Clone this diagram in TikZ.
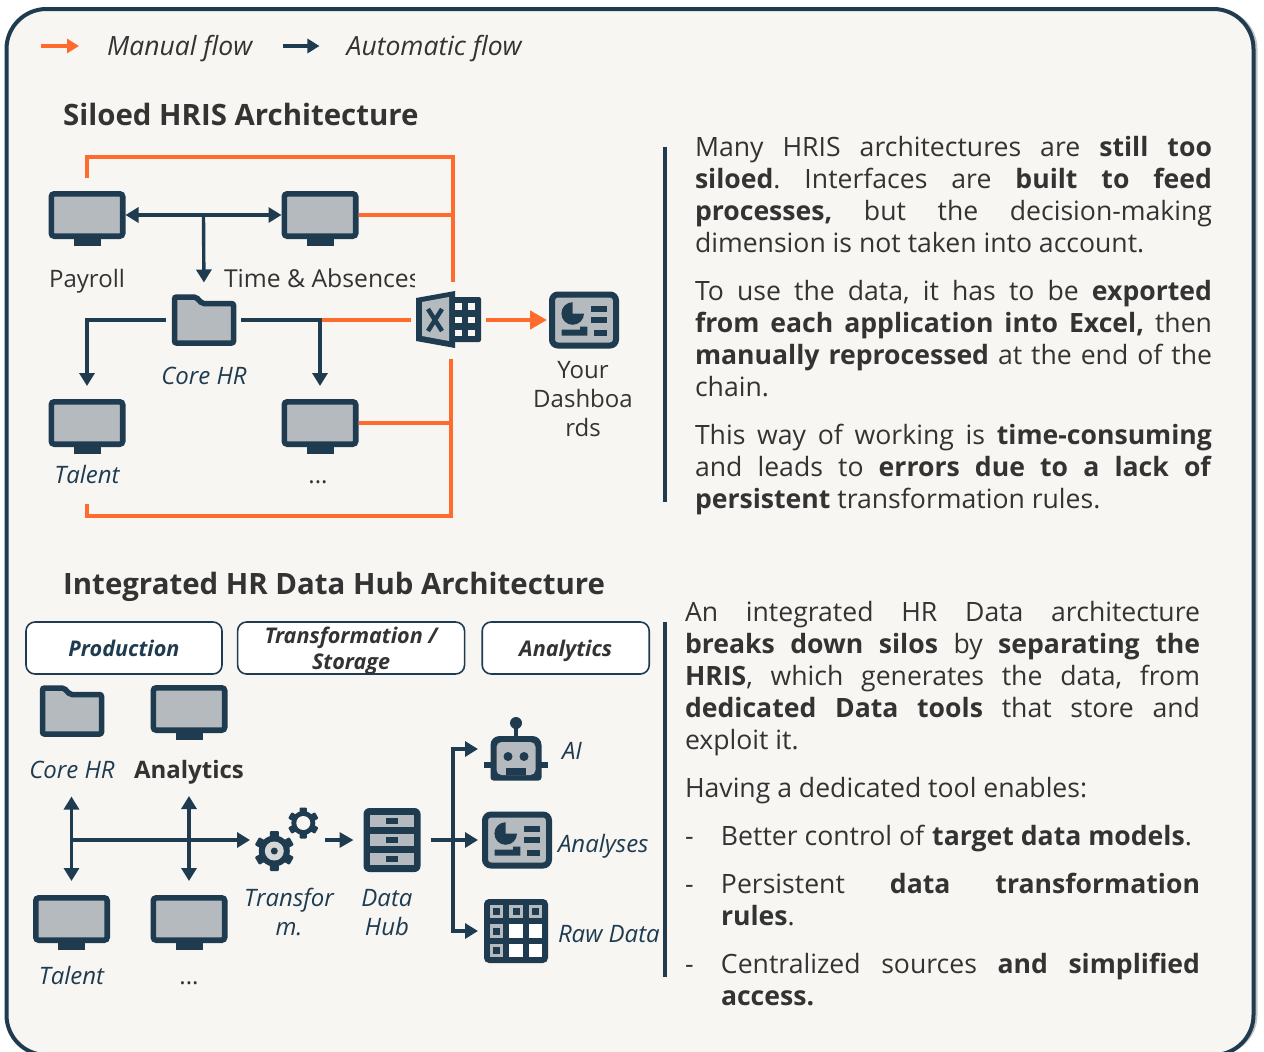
\documentclass[tikz,border=0pt]{standalone}
\usepackage{fontspec}
\setmainfont{Open Sans}
\usetikzlibrary{arrows.meta,positioning,shadows,calc}
\definecolor{navy}{HTML}{1F3B50}
\definecolor{flame}{HTML}{FF6B2C}
\definecolor{panel}{HTML}{B4BABD}
\definecolor{paper}{HTML}{F7F6F2}
\definecolor{ink}{HTML}{333333}
\newcommand{\dashitem}[1]{\hangindent=36pt\hangafter=1\noindent\makebox[36pt][l]{-}#1\strut\par}
\tikzset{
  manualline/.style={draw=flame,line width=3.6pt},
  manualarrow/.style={draw=flame,line width=4.5pt,-{Triangle[length=17pt,width=18pt]}},
  autoline/.style={draw=navy,line width=3.4pt,-{Triangle[length=13pt,width=15pt]}},
  bothline/.style={draw=navy,line width=3.4pt,{Triangle[length=13pt,width=15pt]}-{Triangle[length=13pt,width=15pt]}},
  divider/.style={draw=navy,line width=3.5pt},
  iconarea/.style={inner sep=0pt,outer sep=0pt},
  iconlabel/.style={font={\fontsize{24}{29}\selectfont},text=ink,inner sep=0pt,outer sep=0pt,text height=17pt,text depth=6pt},
  italabel/.style={iconlabel,text=navy,font={\fontsize{24}{29}\selectfont\itshape}},
  twolabel/.style={font={\fontsize{24}{29}\selectfont},text=ink,inner sep=0pt,outer sep=0pt,align=center,anchor=north},
  legendtext/.style={font={\fontsize{26.5}{30}\selectfont\itshape},text=ink,inner sep=0pt,anchor=west},
  heading/.style={font={\fontsize{29.4}{36}\selectfont\bfseries},text=ink,inner sep=0pt,anchor=west},
  headbox/.style={draw=navy,line width=1.6pt,fill=white,rounded corners=9pt,minimum height=52pt,inner sep=0pt,align=center,font={\fontsize{21.6}{26}\selectfont\bfseries\itshape}},
  bodytext/.style={font={\fontsize{26.6}{32}\selectfont\frenchspacing},text=ink,inner sep=0pt,outer sep=0pt,text width=#1,align=justify,anchor=north west},
  bodytext/.default=517pt,
  monitor/.pic={
    \node[draw=navy,fill=panel,line width=5.6pt,rounded corners=3pt,minimum width=71.4pt,minimum height=42.4pt,iconarea,outer sep=2.8pt] (-box) {};
    \fill[navy] (-13.5,23) rectangle (13.5,31);
  },
  folder/.pic={
    \node[iconarea,minimum width=64pt,minimum height=51pt] (-box) {};
    \draw[navy,fill=panel,line width=5.5pt,rounded corners=2pt] (-29.5,-23) -- (-8,-23) -- (-2,-16.5) -- (29.5,-16.5) -- (29.5,23) -- (-29.5,23) -- cycle;
  },
  excel/.pic={
    \node[iconarea,minimum width=66pt,minimum height=57pt] (-box) {};
    \fill[navy] (-33,-22) -- (6,-29) -- (6,28) -- (-33,21) -- cycle;
    \fill[panel] (-27,-18) -- (0,-23) -- (0,21) -- (-27,16) -- cycle;
    \draw[navy,line width=4.5pt] (-21,-11) -- (-7,11) (-7,-11) -- (-21,11);
    \fill[navy,rounded corners=2pt] (4,-23) rectangle (32,22);
    \foreach \row in {-17,-3.5,9.5}
      \foreach \col in {6,19}
        \fill[paper] (\col,\row) rectangle ++(6.5,6.5);
  },
  dashboard/.pic={
    \node[draw=navy,fill=panel,line width=6pt,rounded corners=6pt,minimum width=64pt,minimum height=51pt,iconarea,outer sep=3pt] (-box) {};
    \fill[navy] (-11.3,-6.5) -- ++(11.3,0) arc[start angle=0,end angle=270,radius=11.3] -- cycle;
    \foreach \row in {-14.5,-3}
      \fill[navy] (6.7,\row) rectangle ++(16,6);
    \fill[navy] (10,9.5) rectangle (22.7,15.5);
    \fill[navy] (-22.3,9.5) -- (-4,9.5) -- (-4,6.5) -- (3.3,6.5) -- (3.3,15.5) -- (-22.3,15.5) -- cycle;
  },
  gearset/.pic={
    \node[iconarea,minimum width=68pt,minimum height=64pt] (-box) {};
    \begin{scope}[shift={(15.3,-17)}]
      \fill[navy] (0,0) circle[radius=12];
      \foreach \a in {0,60,...,300}
        \fill[navy,rotate=\a,rounded corners=1pt] (-3.6,-15.5) rectangle (3.6,0);
      \fill[paper] (0,0) circle[radius=7];
    \end{scope}
    \begin{scope}[shift={(-13.7,11)}]
      \fill[navy] (0,0) circle[radius=15.5];
      \foreach \a in {0,60,...,300}
        \fill[navy,rotate=\a,rounded corners=1pt] (-4.5,-20) rectangle (4.5,0);
      \fill[panel!50!paper] (0,0) circle[radius=9.5];
      \fill[navy] (0,0) circle[radius=3.5];
    \end{scope}
  },
  datahub/.pic={
    \node[fill=navy,rounded corners=6pt,minimum width=57pt,minimum height=64pt,iconarea] (-box) {};
    \foreach \row in {-25,-6,13}{
      \fill[panel] (-22,\row) rectangle (22,\row+12);
      \fill[navy] (-6,\row+3) rectangle (6,\row+9);
    }
  },
  robot/.pic={
    \node[iconarea,minimum width=64pt,minimum height=63pt] (-box) {};
    \fill[navy] (0,-26) circle[radius=6];
    \fill[navy] (-1.8,-26) rectangle (1.8,-12);
    \fill[navy] (-32,12.5) rectangle (32,18.5);
    \fill[navy,rounded corners=9pt] (-25.5,10) -- (-25.5,-13) -- (25.5,-13) -- (25.5,10) [rounded corners=3pt] -- (25.5,31.5) -- (-25.5,31.5) -- cycle;
    \fill[panel,rounded corners=5pt] (-19.5,-7) -- (19.5,-7) -- (19.5,26) -- (-19.5,26) -- cycle;
    \fill[navy] (-8,7.5) circle[radius=4.5] (8,7.5) circle[radius=4.5];
    \fill[navy] (-10,18.5) rectangle (10,26);
  },
  rawtable/.pic={
    \node[fill=navy,rounded corners=5pt,minimum width=64pt,minimum height=64pt,iconarea] (-box) {};
    \foreach \row in {-19.3,0,19.3}
      \foreach \col in {-19.3,0,19.3}
        \fill[white] (\col-6.6,\row-6.6) rectangle (\col+6.6,\row+6.6);
    \foreach \row/\col in {-19.3/-19.3,-19.3/0,-19.3/19.3,0/-19.3,19.3/-19.3}{
      \fill[panel] (\col-6.6,\row-6.6) rectangle (\col+6.6,\row+6.6);
      \fill[navy] (\col-3.5,\row-3.5) rectangle (\col+3.5,\row+3.5);
    }
  },
}
\begin{document}
\begin{tikzpicture}[x=1pt,y=-1pt]
\clip[preaction={fill=white}] (0,0) rectangle (1264,1052);
\node[draw=navy,fill=paper,line width=4pt,rounded corners=40pt,minimum width=1247pt,minimum height=1046pt,inner sep=0pt,
  drop shadow={shadow xshift=4pt,shadow yshift=0pt,opacity=.45}] (frame) at (630,532) {};

% legend
\coordinate (manualtail) at (41,46);
\coordinate (autotail) at (283,46);
\node[legendtext] (manualtxt) at (107,49) {Manual flow};
\node[legendtext,right=94pt of manualtxt] (autotxt) {Automatic flow};
\draw[manualarrow,shorten >=28pt,-{Triangle[length=12pt,width=14pt]},line width=3.4pt] (manualtail) -- (manualtail -| manualtxt.west);
\draw[autoline,shorten >=27pt,-{Triangle[length=12pt,width=14pt]}] (autotail) -- (autotail -| autotxt.west);

% top diagram
\node[heading] (silotitle) at (63,114) {Siloed HRIS Architecture};
\pic (payroll) at (87,215) {monitor};
\pic (time) at (320,215) {monitor};
\pic (corehr) at (204,320) {folder};
\pic (talent) at (87,423) {monitor};
\pic (other) at (320,423) {monitor};
\pic (xl) at (449,320) {excel};
\pic (dash) at (584,320) {dashboard};

\node[iconlabel,below=31pt of payroll-box] (payrolltxt) {Payroll};
\begin{scope}
  \clip (200,255) rectangle (414,300);
  \node[iconlabel,anchor=west,font={\fontsize{24.7}{29}\selectfont}] (timetxt) at (224,282) {Time \& Absences};
\end{scope}
\node[italabel,below=22pt of corehr-box] (corehrtxt) {Core HR};
\node[italabel,below=19pt of talent-box] (talenttxt) {Talent};
\node[iconlabel,below=19pt of other-box,xshift=-2pt] (othertxt) {...};
\node[twolabel,below=10pt of dash-box,xshift=-1pt] (dashtxt) {\strut Your\\\strut Dashboa\\\strut rds};

\coordinate (railtop) at (453,157);
\coordinate (railbot) at (451,516);
\coordinate (coresplit) at (320,320);
\coordinate (payjoin) at ($(payroll-box.east)!0.5!(time-box.west)$);

\draw[manualline,shorten <=13pt,shorten >=10pt] (payroll-box.north) |- (railtop) -- (railtop |- xl-box.north);
\draw[manualline] (time-box.east) -- (time-box.east -| railtop);
\draw[manualline,shorten <=10pt,shorten >=15pt] (railbot |- xl-box.south) -- (railbot) -| (talenttxt.south);
\draw[manualline] (other-box.east) -- (other-box.east -| railbot);
\draw[manualline,shorten >=5pt] (coresplit) -- (xl-box.west);
\draw[manualarrow,shorten <=4pt,shorten >=2pt] (xl-box.east) -- (dash-box.west);
\draw[bothline] (payroll-box.east) -- (time-box.west);
\draw[autoline,shorten >=12pt] (payjoin) -- (corehr-box.north);
\draw[autoline,shorten <=6pt,shorten >=13pt] (corehr-box.west) -| (talent-box.north);
\draw[autoline,shorten <=5pt,shorten >=13pt] (corehr-box.east) -- (coresplit) -- (other-box.north);

\draw[divider] (665,147) -- (665,502);
\node[bodytext] (siloa) at (695,134) {\strut Many HRIS architectures are \textbf{still too}\linebreak \textbf{siloed}. Interfaces are \textbf{built to feed}\linebreak \textbf{processes,} but the decision-making\linebreak dimension is not taken into account.\strut};
\node[bodytext,below=16pt of siloa.south west,anchor=north west] (silob) {\strut To use the data, it has to be \textbf{exported}\linebreak \textbf{from each application into Excel,} then\linebreak \textbf{manually reprocessed} at the end of the\linebreak chain.\strut};
\node[bodytext,below=16pt of silob.south west,anchor=north west] (siloc) {\strut This way of working is \textbf{time-consuming}\linebreak and leads to \textbf{errors due to a lack of}\linebreak \textbf{persistent} transformation rules.\strut};

% bottom diagram
\node[heading] (hubtitle) at (63,586.5) {Integrated HR Data Hub Architecture};
\node[headbox,text=navy,minimum width=196pt] (prodhead) at (124,648) {Production};
\node[headbox,text=ink,minimum width=227pt,right=14pt of prodhead] (transhead) {Transformation /\\\smash{Storage}};
\node[headbox,text=ink,minimum width=167pt,right=16pt of transhead,text depth=0pt] (analhead) {Analytics};

\pic (hubcore) at (72,711) {folder};
\pic (hubanal) at (189,709) {monitor};
\pic (hubtalent) at (71.5,919) {monitor};
\pic (hubother) at (189,919) {monitor};
\pic (gears) at (288,840) {gearset};
\pic (hub) at (392,840) {datahub};
\pic (bot) at (516,749) {robot};
\pic (charts) at (517,840) {dashboard};
\pic (rawdata) at (516,931) {rawtable};

\node[italabel,below=25pt of hubcore-box] (hubcoretxt) {Core HR};
\node[iconlabel,below=28pt of hubanal-box,font={\fontsize{24}{29}\selectfont\bfseries}] (hubanaltxt) {Analytics};
\node[italabel,below=24pt of hubtalent-box] (hubtalenttxt) {Talent};
\node[iconlabel,below=24pt of hubother-box] (hubothertxt) {...};
\node[twolabel,below=14pt of gears-box,text=navy,font={\fontsize{24}{29}\selectfont\itshape},xshift=1pt] (gearstxt) {\strut Transfor\\\strut m.};
\node[twolabel,below=14pt of hub-box,xshift=-5pt,text=navy,font={\fontsize{24}{29}\selectfont\itshape}] (hubtxt) {\strut Data\\\strut Hub};
\node[italabel,right=14pt of bot-box,yshift=-5pt] (bottxt) {AI};
\node[italabel,right=6pt of charts-box,yshift=-7pt] (chartstxt) {Analyses};
\node[italabel,right=10pt of rawdata-box,yshift=-6pt] (rawdatatxt) {Raw Data};

\coordinate (prodjoin) at (71.5,840);
\coordinate (split) at (453,840);
\draw[bothline,shorten <=12pt,shorten >=14pt] (hubcoretxt.south -| hubtalent-box.north) -- (hubtalent-box.north);
\draw[bothline,shorten <=12pt,shorten >=14pt] (hubanaltxt.south) -- (hubother-box.north);
\draw[autoline,shorten >=4pt] (prodjoin) -- (gears-box.west);
\draw[autoline,shorten <=3pt,shorten >=10pt,-{Triangle[length=14pt,width=15pt]}] (gears-box.east) -- (hub-box.west);
\draw[autoline,shorten <=10pt,shorten >=4pt] (hub-box.east) -- (charts-box.west);
\draw[autoline,shorten >=6pt] (split) |- (bot-box.west);
\draw[autoline,shorten >=6pt] (split) |- (rawdata-box.west);

\draw[divider] (665,622) -- (665,977);
\node[bodytext=515pt] (huba) at (685,599) {\strut An integrated HR Data architecture\linebreak \textbf{breaks down silos} by \textbf{separating the}\linebreak \textbf{HRIS}, which generates the data, from\linebreak \textbf{dedicated Data tools} that store and\linebreak exploit it.\strut};
\node[bodytext=515pt,below=16pt of huba.south west,anchor=north west] (hubb) {\strut Having a dedicated tool enables:\strut};
\node[bodytext=515pt,below=16pt of hubb.south west,anchor=north west] (hubc) {\dashitem{\strut Better control of \textbf{target data models}.}};
\node[bodytext=515pt,below=16pt of hubc.south west,anchor=north west] (hubd) {\dashitem{\strut Persistent \textbf{data transformation}\linebreak \textbf{rules}.}};
\node[bodytext=515pt,below=16pt of hubd.south west,anchor=north west] (hube) {\dashitem{\strut Centralized sources \textbf{and simplified}\linebreak \textbf{access.}}};
\end{tikzpicture}
\end{document}
